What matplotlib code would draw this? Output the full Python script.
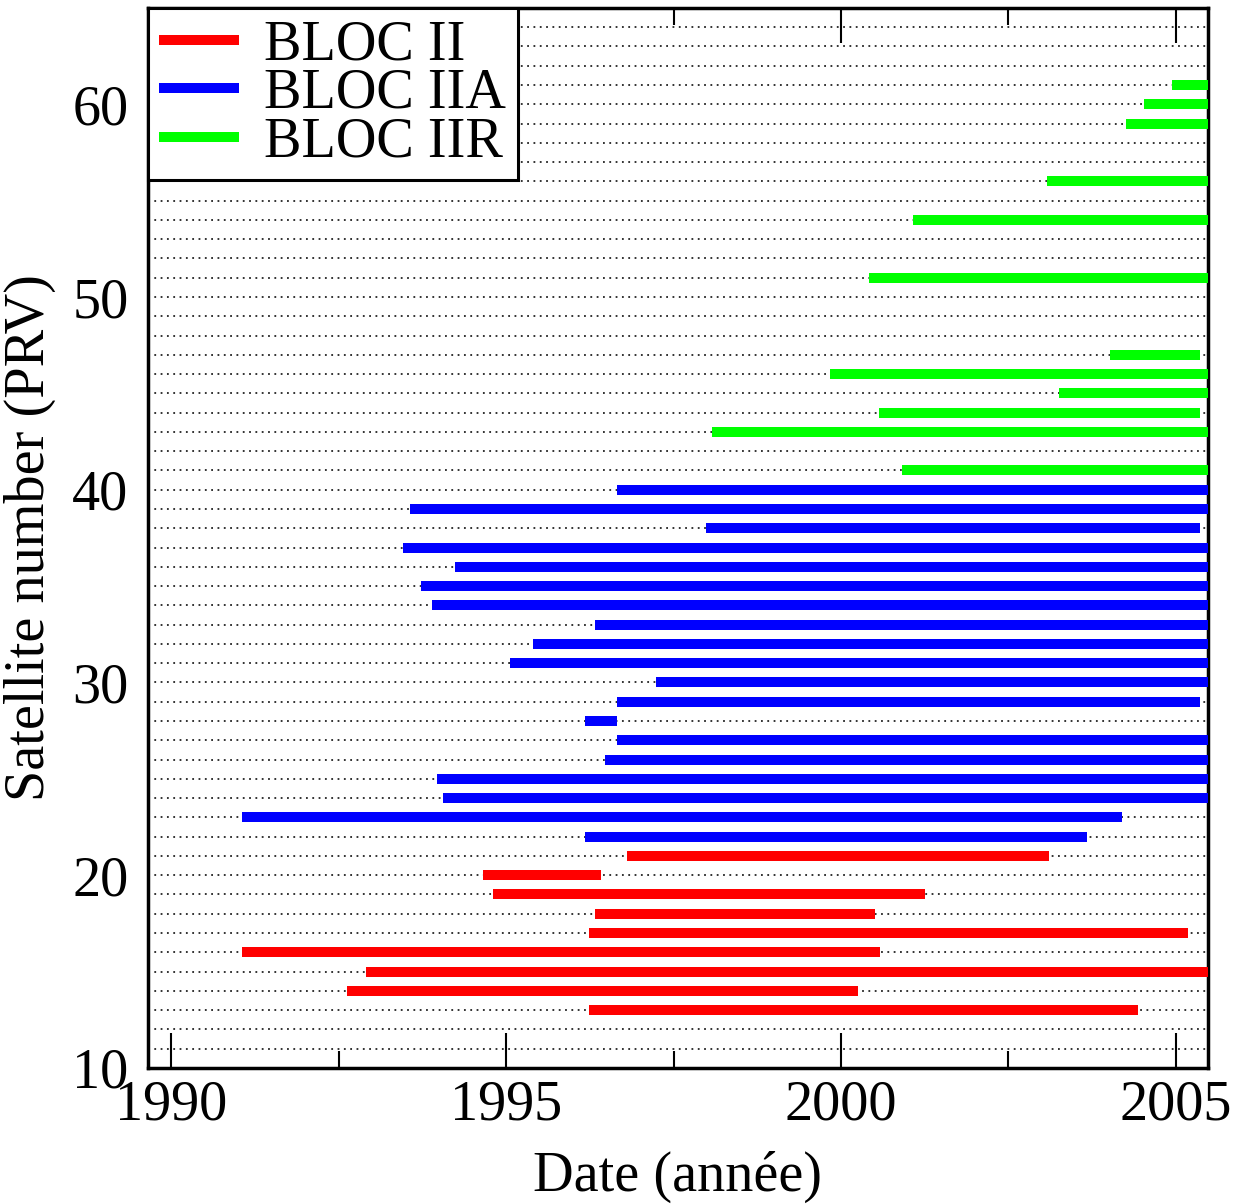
import matplotlib
matplotlib.use("Agg")
import matplotlib.pyplot as plt
from matplotlib.ticker import MultipleLocator

# ---- Data ----
bloc2_prn   = [13, 14, 15, 16, 17, 18, 19, 20, 21]
bloc2_start = [1996.24, 1992.63, 1992.90, 1991.05, 1996.24, 1996.32, 1994.81, 1994.66, 1996.81]
bloc2_end   = [2004.43, 2000.25, 2005.50, 2000.58, 2005.18, 2000.51, 2001.26, 1996.41, 2003.10]

bloc2a_prn   = [22, 23, 24, 25, 26, 27, 28, 29, 30, 31, 32, 33, 34, 35, 36, 37, 38, 39, 40]
bloc2a_start = [1996.17, 1991.05, 1994.06, 1993.97, 1996.48, 1996.66, 1996.17, 1996.66, 1997.23,
                1995.06, 1995.40, 1996.32, 1993.89, 1993.73, 1994.24, 1993.46, 1997.99, 1993.56, 1996.66]
bloc2a_end   = [2003.68, 2004.19, 2005.50, 2005.50, 2005.50, 2005.50, 1996.66, 2005.36, 2005.50,
                2005.50, 2005.50, 2005.50, 2005.50, 2005.50, 2005.50, 2005.50, 2005.36, 2005.50, 2005.50]

bloc2r_prn   = [41, 43, 44, 45, 46, 47, 51, 54, 56, 59, 60, 61]
bloc2r_start = [2000.91, 1998.07, 2000.57, 2003.25, 1999.84, 2004.01, 2000.42, 2001.08, 2003.08,
                2004.25, 2004.52, 2004.94]
bloc2r_end   = [2005.50, 2005.50, 2005.36, 2005.50, 2005.50, 2005.36, 2005.50, 2005.50, 2005.50,
                2005.50, 2005.50, 2005.50]

labels = ["BLOC II", "BLOC IIA", "BLOC IIR"]
colors = ["#ff0000", "#0000ff", "#00ff00"]

plt.rcParams['font.family'] = ['Liberation Serif', 'DejaVu Serif']

fig = plt.figure(figsize=(12.36, 12.04), dpi=100)
ax = fig.add_axes([0.1197, 0.1130, 0.8576, 0.8804])

series = [(bloc2_prn, bloc2_start, bloc2_end),
          (bloc2a_prn, bloc2a_start, bloc2a_end),
          (bloc2r_prn, bloc2r_start, bloc2r_end)]

for (prn, st, en), lab, col in zip(series, labels, colors):
    ax.hlines(prn, st, en, colors=col, linewidth=7.2, capstyle='butt', label=lab, zorder=3)

ax.set_xlim(1989.65, 2005.48)
ax.set_ylim(10, 65)

ax.set_xticks([1990, 1995, 2000, 2005])
ax.xaxis.set_minor_locator(MultipleLocator(2.5))
ax.set_yticks([10, 20, 30, 40, 50, 60])
ax.yaxis.set_minor_locator(MultipleLocator(1))

ax.grid(True, which='both', axis='y', linestyle=(0, (1, 2.5)), color='#222222', linewidth=1.3, zorder=1)
ax.set_axisbelow(True)

FS = 40.5
ax.tick_params(axis='x', which='major', direction='in', length=25, width=1.5, top=True,
               labelsize=FS, pad=8)
ax.tick_params(axis='x', which='minor', direction='in', length=12, width=1.5, top=True)
ax.tick_params(axis='y', which='both', length=0, labelsize=FS, pad=14)

for s in ax.spines.values():
    s.set_linewidth(2.5)

ax.set_xlabel("Date (année)", fontsize=FS, labelpad=14)
ax.set_ylabel("Satellite number (PRV)", fontsize=FS, labelpad=12)

leg = ax.legend(loc='upper left', fontsize=FS, frameon=True, fancybox=False,
                edgecolor='black', framealpha=1, borderaxespad=0.0, borderpad=0.2,
                handlelength=1.42, handletextpad=0.45, labelspacing=-0.06)
leg.get_frame().set_linewidth(2.2)
leg.set_zorder(5)

fig.savefig("out.png", dpi=100)
